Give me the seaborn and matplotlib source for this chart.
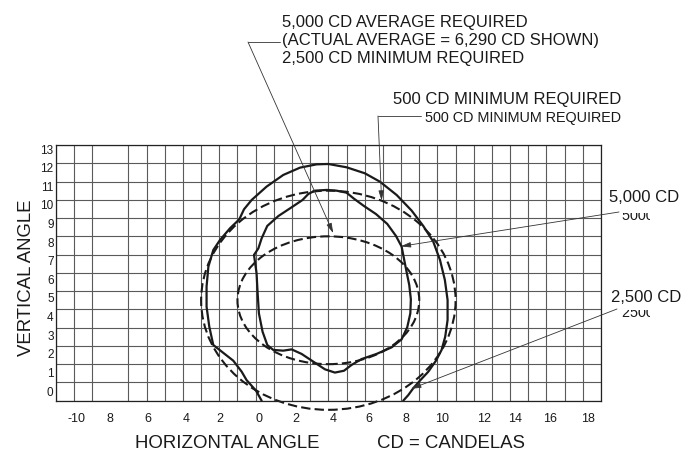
import matplotlib
matplotlib.use("Agg")
import matplotlib.pyplot as plt
import seaborn as sns
import numpy as np
from matplotlib.patches import Ellipse
from matplotlib.lines import Line2D
from matplotlib.transforms import Bbox

sns.set_style("white")
plt.rcParams['font.family'] = ['Liberation Sans', 'DejaVu Sans']

# courbe mesuree 2,500 cd (ligne pleine exterieure), degres
outer_x = [0.33, 0.02, -0.50, -0.77, -1.23, -1.87, -2.33, -2.55, -2.70, -2.70, -2.60,
           -2.33, -1.96, -1.41, -0.90, -0.64, -0.22, 0.60, 1.52, 2.44, 3.35, 4.00,
           5.00, 6.01, 6.84, 7.76, 8.58, 9.22, 9.77, 10.14, 10.41, 10.56, 10.56,
           10.43, 10.23, 9.92, 9.50, 9.04, 8.67, 8.40, 8.12]
outer_y = [-1.00, -0.45, 0.13, 0.59, 1.19, 1.69, 2.05, 3.05, 4.15, 5.25, 6.34,
           7.25, 7.80, 8.44, 8.93, 9.48, 9.99, 10.72, 11.36, 11.76, 11.94, 11.96,
           11.78, 11.45, 10.99, 10.26, 9.41, 8.57, 7.71, 6.71, 5.61, 4.51, 3.42,
           2.51, 1.78, 1.19, 0.59, 0.10, -0.32, -0.69, -1.00]

# courbe mesuree 5,000 cd (ligne pleine interieure, fermee)
inner_x = [-0.09, 0.05, 0.11, 0.18, 0.38, 0.64, 0.97, 1.52, 1.98, 2.53, 3.17, 3.81,
           4.36, 4.86, 5.28, 5.83, 6.65, 7.48, 8.03, 8.34, 8.51, 8.54, 8.45, 8.30,
           8.03, 7.72, 7.24, 6.62, 5.96, 5.41, 5.00, 4.45, 3.90, 3.26, 2.90, 2.58,
           1.98, 1.25, 0.64, 0.33, 0.15]
inner_y = [6.98, 5.98, 4.88, 3.78, 2.78, 2.05, 1.78, 1.74, 1.81, 1.56, 1.14, 0.72,
           0.54, 0.64, 0.96, 1.28, 1.56, 1.92, 2.36, 3.02, 3.78, 4.55, 5.34, 6.07,
           7.44, 8.02, 8.68, 9.22, 9.66, 10.06, 10.39, 10.50, 10.54, 10.50, 10.32, 9.99,
           9.59, 9.11, 8.57, 7.89, 7.34]

# zones exigees (pointilles) : centre, largeur, hauteur en degres
req_center = (4.0, 4.5)
req500_size = (14.0, 12.0)
req2500_size = (10.0, 7.0)

xtick_labels = ["-10", "8", "6", "4", "2", "0", "2", "4", "6", "8", "10", "12", "14", "16", "18"]
ytick_labels = [str(k) for k in range(14)]

# positions des etiquettes (dessin d'origine, un peu decalees)
xtick_pos = [-9.84, -8.0, -5.92, -3.83, -1.96, 0.18, 2.22, 4.25, 6.23, 8.27,
             10.25, 12.56, 14.26, 16.18, 18.27]
ytick_pos = [-0.47 + 1.0186 * k for k in range(14)]

W, H = 696, 458
INK = '#1a1a1a'
GRID = '#5a5a5a'


def fp(x, y):
    # pixels depuis le coin haut-gauche -> figure pixels
    return (x, H - y)


fig = plt.figure(figsize=(W / 100, H / 100), dpi=100)
ax = fig.add_axes([55.7 / W, 1 - 400.7 / H, (601 - 55.7) / W, (400.7 - 145) / H])
ax.set_xlim(-11, 19)
ax.set_ylim(-1, 13)

ax.set_xticks(np.arange(-11, 20), minor=True)
ax.set_yticks(np.arange(-1, 14), minor=True)
ax.set_xticks(xtick_pos)
ax.set_xticklabels(xtick_labels)
ax.set_yticks(ytick_pos)
ax.set_yticklabels(ytick_labels)
ax.tick_params(which='major', length=0, colors=INK)
ax.tick_params(axis='x', which='major', pad=8.5, labelsize=9)
ax.tick_params(axis='y', which='major', pad=1.5, labelsize=8.5)
ax.tick_params(axis='x', which='minor', length=11.5, width=0.8, color=GRID, direction='out')
ax.tick_params(axis='y', which='minor', length=0)
ax.grid(which='minor', color=GRID, lw=0.8)
ax.grid(which='major', visible=False)
ax.set_axisbelow(True)
for s in ax.spines.values():
    s.set_color('#222222')
    s.set_linewidth(0.9)

# courbes mesurees
sns.lineplot(x=outer_x, y=outer_y, sort=False, estimator=None, color=INK, lw=1.6, ax=ax)
sns.lineplot(x=inner_x + inner_x[:1], y=inner_y + inner_y[:1], sort=False, estimator=None,
             color=INK, lw=1.6, ax=ax)

# zones exigees
dash = (0, (4.5, 2))
ax.add_patch(Ellipse(req_center, *req500_size, fill=False, ec=INK, lw=1.5, ls=dash, clip_on=False))
ax.add_patch(Ellipse(req_center, *req2500_size, fill=False, ec=INK, lw=1.5, ls=dash, clip_on=False))

# textes
big = 12
fig.text(282 / W, 1 - 27.5 / H, "5,000 CD AVERAGE REQUIRED", fontsize=big, color=INK, va='baseline')
fig.text(282 / W, 1 - 45.5 / H, "(ACTUAL AVERAGE = 6,290 CD SHOWN)", fontsize=big, color=INK, va='baseline')
fig.text(282 / W, 1 - 63.5 / H, "2,500 CD MINIMUM REQUIRED", fontsize=big, color=INK, va='baseline')
fig.text(393 / W, 1 - 104 / H, "500 CD MINIMUM REQUIRED", fontsize=big, color=INK, va='baseline')
fig.text(425 / W, 1 - 121.7 / H, "500 CD MINIMUM REQUIRED", fontsize=10.4, color=INK, va='baseline')
fig.text(609 / W, 1 - 202.3 / H, "5,000 CD", fontsize=big, color=INK, va='baseline')
fig.text(611 / W, 1 - 301.7 / H, "2,500 CD", fontsize=big, color=INK, va='baseline')

# etiquettes fantomes coupees
for s, yb in [("5000 CD", 219.5), ("2500 CD", 316.7)]:
    t = fig.text(622 / W, 1 - yb / H, s, fontsize=10.4, color=INK, va='baseline')
    t.set_clip_box(Bbox.from_extents(600, H - yb - 3, 650, H - yb + 6.3))
    t.set_clip_on(True)

fig.text(135 / W, 1 - 443 / H, "HORIZONTAL ANGLE", fontsize=13.4, color=INK, va='center')
fig.text(377 / W, 1 - 443 / H, "CD = CANDELAS", fontsize=13.4, color=INK, va='center')
fig.text(27 / W, 1 - 278 / H, "VERTICAL ANGLE", fontsize=13.4, color=INK, va='center',
         ha='center', rotation=90)

# lignes de rappel
arrow = dict(arrowstyle='-|>,head_length=0.6,head_width=0.16', color='#333333', lw=0.6,
             mutation_scale=10, shrinkA=0, shrinkB=0)
leaders = [((248, 42), (4.27, 8.17)), ((378, 116), (6.93, 9.95)),
           ((619, 212), (7.98, 7.45)), ((617, 309), (8.55, -0.35))]
for start, tip in leaders:
    ax.annotate("", xy=tip, xycoords='data', xytext=fp(*start), textcoords='figure pixels',
                arrowprops=arrow)
for x1, x2, y in [(248, 280, 42), (378, 421, 116)]:
    fig.add_artist(Line2D([x1 / W, x2 / W], [1 - y / H, 1 - y / H], color='#333333', lw=0.6))

fig.savefig("out.png", dpi=100)
